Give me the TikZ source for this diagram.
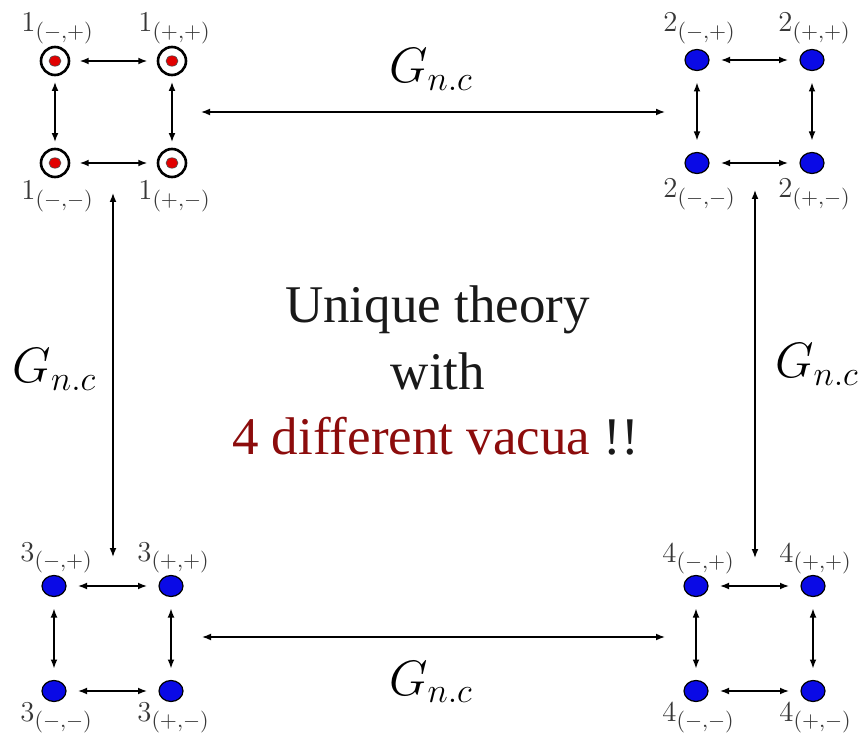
\documentclass[tikz,border=0pt]{standalone}
\usepackage{fontspec}
\setmainfont{Liberation Serif}
\usetikzlibrary{arrows.meta,shapes.geometric}
\definecolor{vacred}{RGB}{140,12,12}
\definecolor{dotblue}{RGB}{10,10,230}
\definecolor{dotred}{RGB}{225,0,0}
\definecolor{lblgray}{RGB}{55,55,55}
\begin{document}
\begin{tikzpicture}[x=0.5pt,y=-0.5pt]
\tikzset{
  ring/.style={circle,draw,line width=1.3pt,fill=white,minimum size=14pt,inner sep=0pt,
    path picture={\filldraw[fill=dotred,draw=black!70,line width=0.3pt]
      (path picture bounding box.center) ellipse (3pt and 2.6pt);}},
  vac/.style={ellipse,draw,line width=0.6pt,fill=dotblue,minimum width=12pt,minimum height=10.5pt,inner sep=0pt},
  sarr/.style={{Latex[length=4.5pt,width=3.4pt]}-{Latex[length=4.5pt,width=3.4pt]},line width=0.75pt},
  barr/.style={{Latex[length=4.5pt,width=3.4pt]}-{Latex[length=4.5pt,width=3.4pt]},line width=0.6pt},
  lbl/.style={anchor=base west,inner sep=0pt,text=lblgray,font=\fontsize{15}{17}\selectfont},
  glbl/.style={anchor=base,inner sep=0pt,font=\fontsize{26}{30}\selectfont},
  ctext/.style={anchor=base,inner sep=0pt,font=\fontsize{26.5}{30}\selectfont,text=black!90}
}
\useasboundingbox (0,0) rectangle (864,733);

\foreach \s/\xa/\xb/\ya/\yb/\st/\h/\v/\lt/\lb in {
  1/55/172/61/163/ring/4.7pt/2.8pt/32/200,
  2/697/812/60/163/vac/5.7pt/5.7pt/32/198,
  3/54/171/586/691/vac/5.7pt/5.7pt/561/721,
  4/696/813/586/691/vac/5.7pt/5.7pt/562/721}{
  \node[\st] (n\s mp) at (\xa,\ya) {};
  \node[\st] (n\s pp) at (\xb,\ya) {};
  \node[\st] (n\s mm) at (\xa,\yb) {};
  \node[\st] (n\s pm) at (\xb,\yb) {};
  \draw[sarr,shorten <=\h,shorten >=\h] (n\s mp) -- (n\s pp);
  \draw[sarr,shorten <=\h,shorten >=\h] (n\s mm) -- (n\s pm);
  \draw[sarr,shorten <=\v,shorten >=\v] (n\s mp) -- (n\s mm);
  \draw[sarr,shorten <=\v,shorten >=\v] (n\s pp) -- (n\s pm);
  \node[lbl] (l\s mp) at (\xa-34,\lt) {$\s_{(-,+)}$};
  \node[lbl] (l\s pp) at (\xb-34,\lt) {$\s_{(+,+)}$};
  \node[lbl] (l\s mm) at (\xa-34,\lb) {$\s_{(-,-)}$};
  \node[lbl] (l\s pm) at (\xb-34,\lb) {$\s_{(+,-)}$};
}

% long connectors between the four squares
\coordinate (tl) at (201,112);
\coordinate (tr) at (665,112);
\coordinate (bl) at (202,637);
\coordinate (br) at (665,637);
\coordinate (lt) at (113,193);
\coordinate (lb) at (113,557);
\coordinate (rt) at (755,190);
\coordinate (rb) at (755,558);
\draw[barr] (tl) -- (tr);
\draw[barr] (bl) -- (br);
\draw[barr] (lt) -- (lb);
\draw[barr] (rt) -- (rb);

\node[glbl] (gtop) at (431,83) {$G_{n.c}$};
\node[glbl] (gbot) at (431,695) {$G_{n.c}$};
\node[glbl] (gleft) at (54.5,383) {$G_{n.c}$};
\node[glbl] (gright) at (817,378) {$G_{n.c}$};

\node[ctext] (c1) at (437.5,323) {Unique theory};
\node[ctext] (c2) at (438,390) {with};
\node[ctext] (c3) at (435.5,455) {{\color{vacred}4 different vacua} !!};
\end{tikzpicture}
\end{document}
